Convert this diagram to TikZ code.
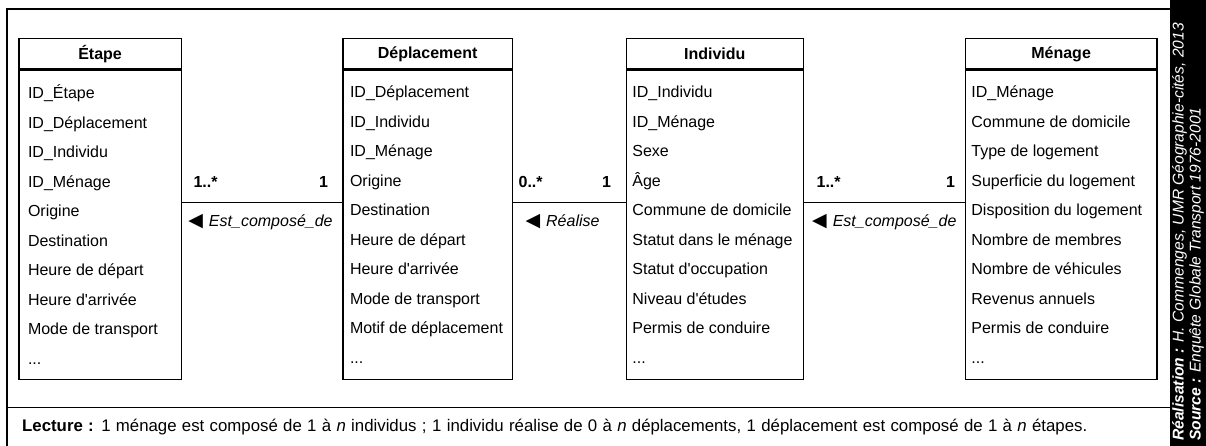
\documentclass[tikz,border=0pt]{standalone}
\usepackage{fontspec}
\setmainfont{Liberation Sans}
\newfontfamily\lib{Liberation Sans}
\newfontfamily\symfont{DejaVu Sans}
\usetikzlibrary{calc}

\tikzset{
  frameline/.style={line width=1.2pt},
  classhead/.style={draw, line width=1.2pt, minimum height=30pt, inner sep=0pt,
    font=\lib\fontsize{16}{19}\selectfont\bfseries, anchor=north west},
  classbody/.style={draw, line width=1.2pt, inner sep=0pt, anchor=north west, minimum height=309pt},
  attrs/.style={inner sep=0pt, align=left, anchor=west,
    font=\lib\fontsize{16}{29.5}\selectfont},
  mult/.style={font=\lib\fontsize{16}{19}\selectfont\bfseries, inner sep=0pt},
  role/.style={font=\lib\fontsize{16}{19}\selectfont\itshape, inner sep=0pt, anchor=north},
  assoc/.style={line width=1.2pt},
}
\newcommand{\tri}{{\symfont\fontsize{19}{19}\selectfont\char"25C0}\hspace{6pt}}

\begin{document}
\begin{tikzpicture}[x=1pt,y=-1pt]
\useasboundingbox (0,0) rectangle (1206,446);

% outer frame
\draw[frameline] (1170,9) -- (7,9) -- (7,452);
\draw[frameline] (7,407.3) -- (1170,407.3);

% black strip
\node[fill=black, minimum width=36pt, minimum height=446pt, inner sep=0pt, anchor=north west] (strip) at (1170,0) {};
\node[rotate=90, anchor=north west, align=left, text=white, inner sep=0pt,
  font=\lib\fontsize{15.6}{17}\selectfont\itshape] (credit) at (1172,441)
  {\textbf{Réalisation :} H. Commenges, UMR Géographie-cités, 2013\\
   \textbf{Source :} Enquête Globale Transport 1976-2001};

% Étape
\node[classhead, minimum width=162.4pt] (etapeH) at (18.3,38.3) {Étape};
\node[classbody, minimum width=162.4pt] (etapeB) at (etapeH.south west) {};
\node[attrs] (etapeT) at ($(etapeB.west)+(9.5,0)$)
  {ID\_Étape\\ID\_Déplacement\\ID\_Individu\\ID\_Ménage\\Origine\\Destination\\Heure de départ\\Heure d'arrivée\\Mode de transport\\...};

% Déplacement
\node[classhead, minimum width=169.4pt] (deplH) at (342.3,38.3) {Déplacement};
\node[classbody, minimum width=169.4pt] (deplB) at (deplH.south west) {};
\node[attrs] (deplT) at ($(deplB.west)+(7.5,0)$)
  {ID\_Déplacement\\ID\_Individu\\ID\_Ménage\\Origine\\Destination\\Heure de départ\\Heure d'arrivée\\Mode de transport\\Motif de déplacement\\...};

% Individu
\node[classhead, minimum width=177pt] (indH) at (625.7,38.3) {Individu};
\node[classbody, minimum width=177pt] (indB) at (indH.south west) {};
\node[attrs] (indT) at ($(indB.west)+(6.5,0)$)
  {ID\_Individu\\ID\_Ménage\\Sexe\\Âge\\Commune de domicile\\Statut dans le ménage\\Statut d'occupation\\Niveau d'études\\Permis de conduire\\...};

% Ménage
\node[classhead, minimum width=191.6pt] (menH) at (964.7,38.3) {Ménage};
\node[classbody, minimum width=191.6pt] (menB) at (menH.south west) {};
\node[attrs] (menT) at ($(menB.west)+(6.5,0)$)
  {ID\_Ménage\\Commune de domicile\\Type de logement\\Superficie du logement\\Disposition du logement\\Nombre de membres\\Nombre de véhicules\\Revenus annuels\\Permis de conduire\\...};

% associations
\draw[assoc] ($(etapeB.north east)+(0,133.4)$) coordinate (a1) -- (a1 -| deplB.west) coordinate (b1);
\node[mult, anchor=west] (m1a) at ($(a1)+(11.5,-20.5)$) {1..*};
\node[mult, anchor=east] (m1b) at ($(b1)+(-14,-20.5)$) {1};
\node[role] (r1) at ($(a1)!0.49!(b1)+(0,11.5)$) {\tri Est\_composé\_de};

\draw[assoc] ($(deplB.north east)+(0,133.4)$) coordinate (a2) -- (a2 -| indB.west) coordinate (b2);
\node[mult, anchor=west] (m2a) at ($(a2)+(5.5,-20.5)$) {0..*};
\node[mult, anchor=east] (m2b) at ($(b2)+(-14.5,-20.5)$) {1};
\node[role] (r2) at ($(a2)!0.44!(b2)+(0,11.5)$) {\tri Réalise};

\draw[assoc] ($(indB.north east)+(0,133.4)$) coordinate (a3) -- (a3 -| menB.west) coordinate (b3);
\node[mult, anchor=west] (m3a) at ($(a3)+(12.5,-20.5)$) {1..*};
\node[mult, anchor=east] (m3b) at ($(b3)+(-9.5,-20.5)$) {1};
\node[role] (r3) at ($(a3)!0.5!(b3)+(0,11.5)$) {\tri Est\_composé\_de};

% lecture
\node[anchor=west, inner sep=0pt, font=\lib\fontsize{16.8}{19}\selectfont] (lecture) at (22,427)
  {\makebox[1065pt][s]{\textbf{Lecture :} 1 ménage est composé de 1 à \textit{n} individus ; 1 individu réalise de 0 à \textit{n} déplacements, 1 déplacement est composé de 1 à \textit{n} étapes.}};
\end{tikzpicture}
\end{document}
